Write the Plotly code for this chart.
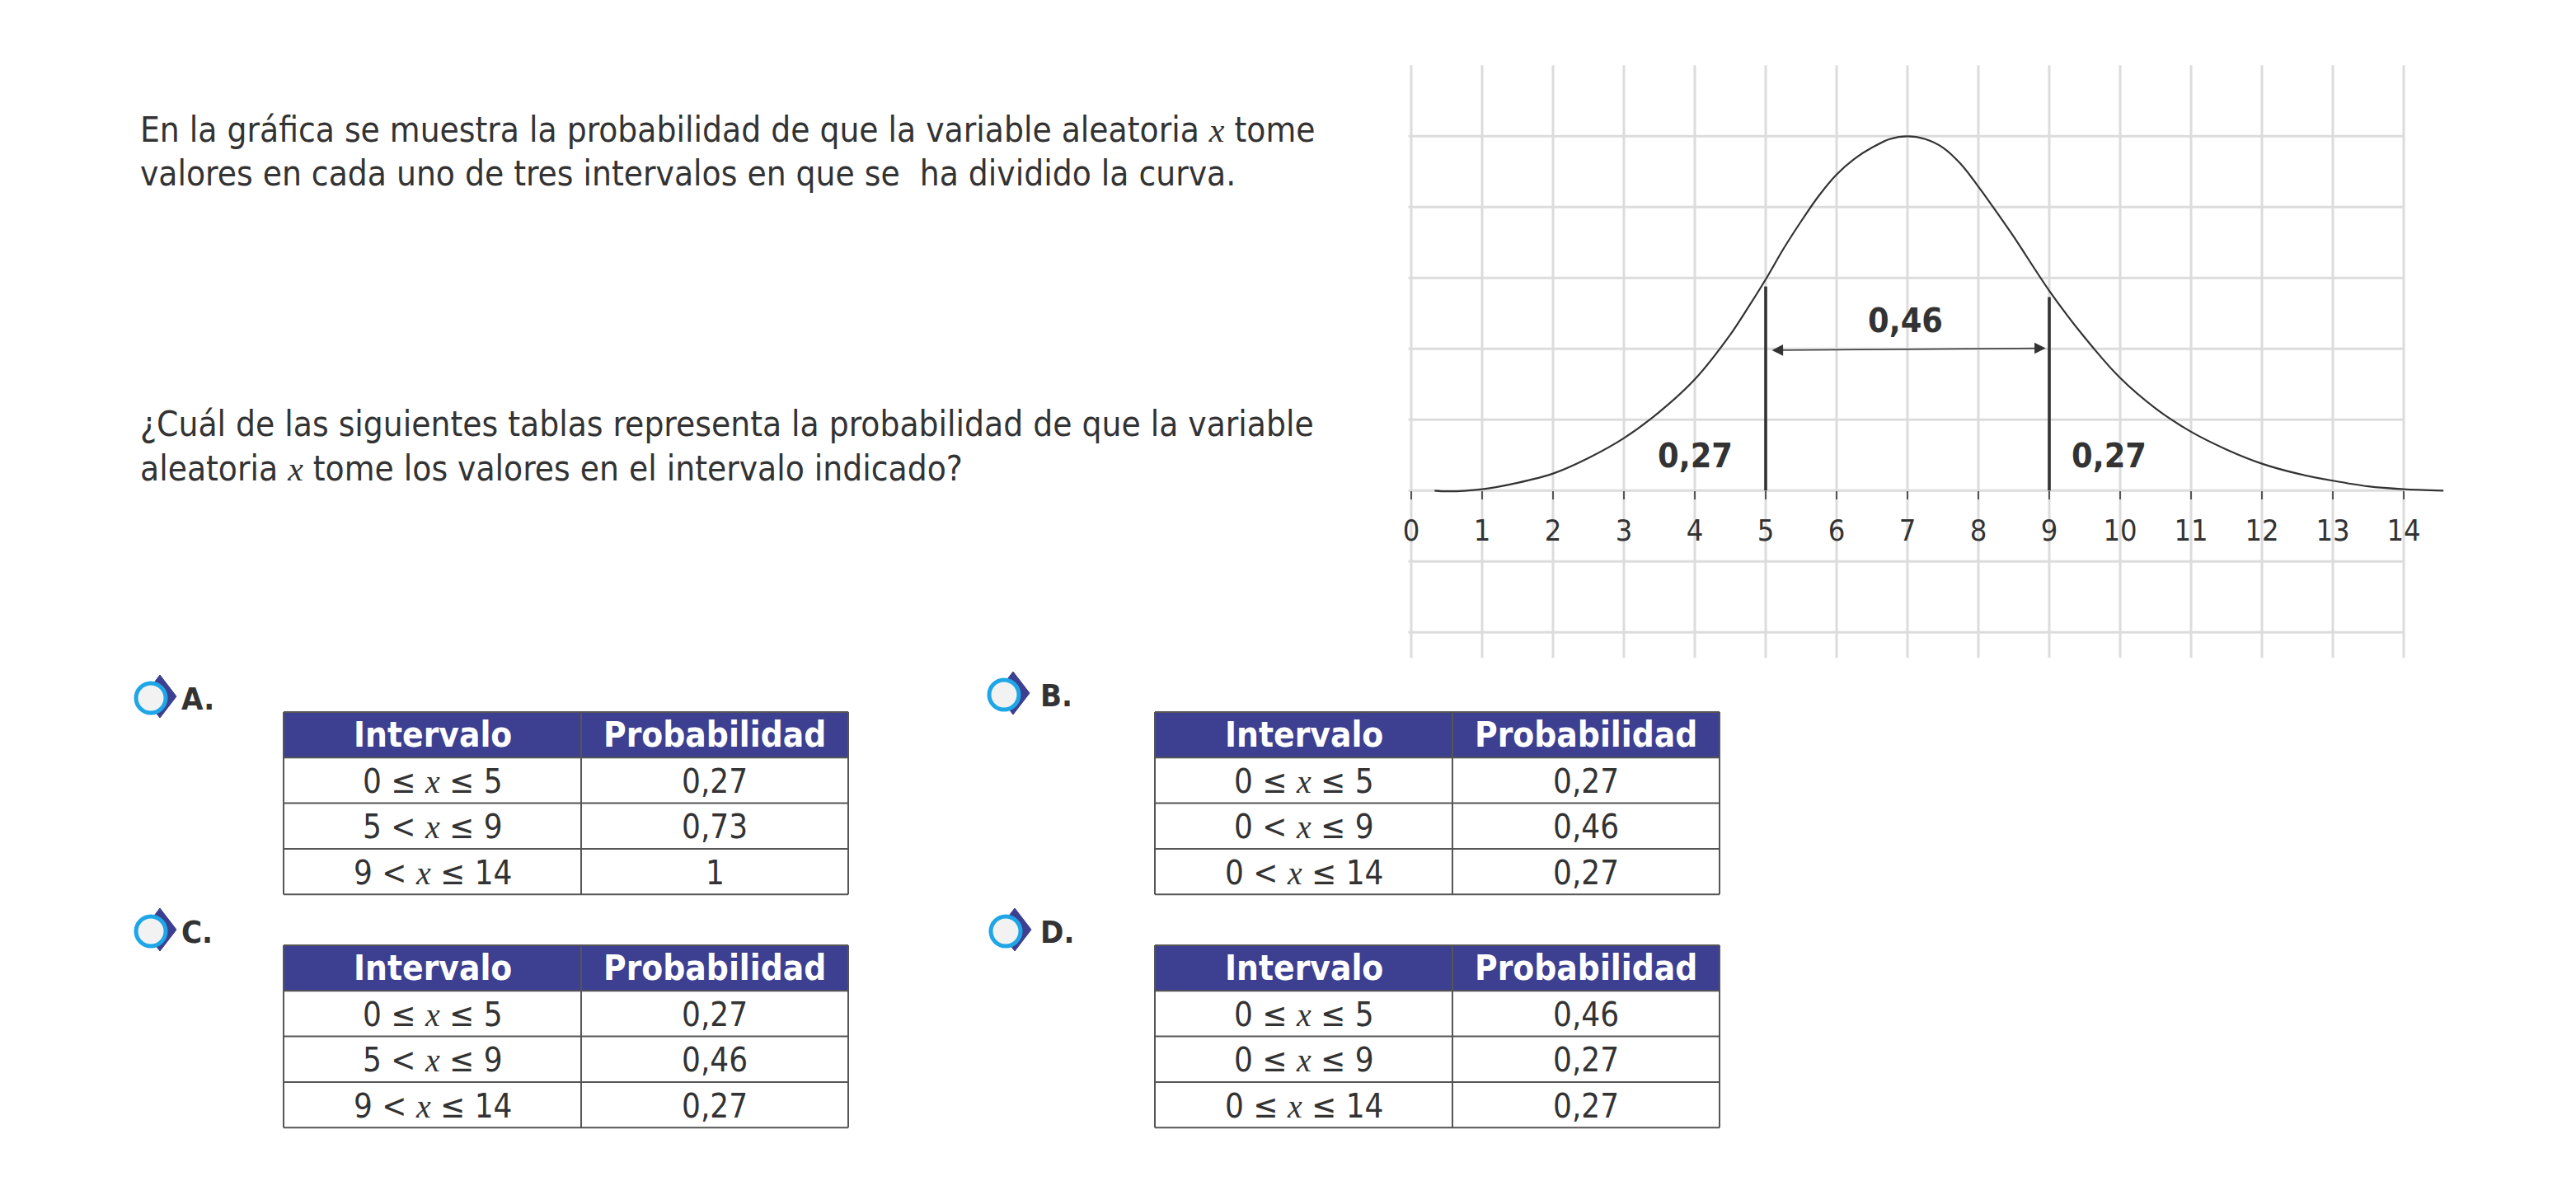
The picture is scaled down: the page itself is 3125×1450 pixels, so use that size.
import plotly.graph_objects as go

W, H = 3125, 1450

# ---------------- data ----------------
CURVE_X = [0.33, 0.5, 1, 1.5, 2, 2.5, 3, 3.5, 4, 4.5, 4.75, 5, 5.25, 5.5, 5.75, 6, 6.25, 6.5, 6.75, 7,
           7.25, 7.5, 7.75, 8, 8.25, 8.5, 9, 9.5, 10, 10.5, 11, 11.5, 12, 12.5, 13, 13.5, 14, 14.56]
CURVE_Y = [0.0, -0.01, 0.02, 0.11, 0.24, 0.46, 0.74, 1.11, 1.57, 2.2, 2.58, 2.98, 3.41, 3.8, 4.16, 4.46, 4.68, 4.84, 4.96, 5.0,
           4.96, 4.84, 4.61, 4.29, 3.94, 3.58, 2.82, 2.16, 1.59, 1.16, 0.83, 0.58, 0.38, 0.24, 0.14, 0.06, 0.02, 0.0]

BOUND_X = [5, 9]
BOUND_TOP = [2.88, 2.73]

ARROW_X = [5.07, 8.95]
ARROW_Y = [1.98, 2.01]

SEG_PROBS = ["0,27", "0,46", "0,27"]
SEG_LABEL_X = [4.01, 6.97, 9.84]
SEG_LABEL_Y = [0.49, 2.40, 0.49]

X_TICKS = list(range(0, 15))
GRID_Y = [-2, -1, 0, 1, 2, 3, 4, 5]

INTRO_LINES = [
    "En la gráfica se muestra la probabilidad de que la variable aleatoria x tome",
    "valores en cada uno de tres intervalos en que se  ha dividido la curva.",
]
QUESTION_LINES = [
    "¿Cuál de las siguientes tablas representa la probabilidad de que la variable",
    "aleatoria x tome los valores en el intervalo indicado?",
]

TABLE_HEADERS = ["Intervalo", "Probabilidad"]
OPTION_LABELS = ["A.", "B.", "C.", "D."]
OPTION_INTERVALS = [
    ["0 ≤ x ≤ 5", "5 < x ≤ 9", "9 < x ≤ 14"],
    ["0 ≤ x ≤ 5", "0 < x ≤ 9", "0 < x ≤ 14"],
    ["0 ≤ x ≤ 5", "5 < x ≤ 9", "9 < x ≤ 14"],
    ["0 ≤ x ≤ 5", "0 ≤ x ≤ 9", "0 ≤ x ≤ 14"],
]
OPTION_PROBS = [
    ["0,27", "0,73", "1"],
    ["0,27", "0,46", "0,27"],
    ["0,27", "0,46", "0,27"],
    ["0,46", "0,27", "0,27"],
]

# ---------------- style / layout constants ----------------
FONT = "Liberation Sans Narrow, DejaVu Sans Condensed, Roboto Condensed, Liberation Sans, sans-serif"
TXT = "#333333"
GRID = "#dcdcdc"
NAVY = "#3d3f91"
SKY = "#1ea6e6"
BORDER = "#555555"

X0_PX, Y0_PX, UNIT = 1712.0, 595.3, 86.0
x_range = [-X0_PX / UNIT, (W - X0_PX) / UNIT]
y_range = [-(H - Y0_PX) / UNIT, Y0_PX / UNIT]


def px(v):
    return v / W


def py(v):
    return 1 - v / H


def var_x(s):
    # the variable x is set as a serif italic, as in the original
    return s.replace(" x ", " <span style='font-family:Liberation Serif, DejaVu Serif, serif'><i>x</i></span> ")


fig = go.Figure()

# grid (layout shapes in data coords)
for xv in X_TICKS:
    fig.add_shape(type="line", xref="x", yref="y", x0=xv, x1=xv, y0=-2.36, y1=6.0,
                  line=dict(color=GRID, width=3), layer="below")
for yv in GRID_Y:
    fig.add_shape(type="line", xref="x", yref="y", x0=-0.04, x1=14, y0=yv, y1=yv,
                  line=dict(color=GRID, width=3), layer="below")

# curve
fig.add_trace(go.Scatter(x=CURVE_X, y=CURVE_Y, mode="lines",
                         line=dict(color=TXT, width=2.2, shape="spline", smoothing=0.8),
                         hoverinfo="skip", showlegend=False))

# boundary lines
for bx, bt in zip(BOUND_X, BOUND_TOP):
    fig.add_trace(go.Scatter(x=[bx, bx], y=[0, bt], mode="lines",
                             line=dict(color=TXT, width=3.6),
                             hoverinfo="skip", showlegend=False))

# double arrow
fig.add_annotation(x=ARROW_X[1], y=ARROW_Y[1], ax=ARROW_X[0], ay=ARROW_Y[0],
                   xref="x", yref="y", axref="x", ayref="y", text="",
                   showarrow=True, arrowhead=2, startarrowhead=2, arrowside="end+start",
                   arrowwidth=1.6, arrowsize=1.7, startarrowsize=1.7, arrowcolor=TXT,
                   standoff=0, startstandoff=0)

# segment probability labels
for lx, ly, lt in zip(SEG_LABEL_X, SEG_LABEL_Y, SEG_PROBS):
    fig.add_annotation(x=lx, y=ly, xref="x", yref="y", text="<b>" + lt + "</b>",
                       showarrow=False, font=dict(family=FONT, size=41, color=TXT),
                       xanchor="center", yanchor="middle")

# paragraphs
for block, top in ((INTRO_LINES, 158), (QUESTION_LINES, 515)):
    for i, line in enumerate(block):
        fig.add_annotation(x=px(168), y=py(top + i * 53), xref="paper", yref="paper",
                           text=var_x(line), showarrow=False, xanchor="left", yanchor="middle",
                           font=dict(family=FONT, size=42, color=TXT))

# tables + option markers (drawn with paper-referenced shapes and annotations)
TABLE_LEFT = [344, 1401, 344, 1401]
TABLE_TOP = [864, 864, 1147, 1147]
COL_W = [361, 324]
RING_C = [(183, 847), (1218, 843), (183, 1130), (1220, 1130)]
LABEL_X = [218, 1260, 218, 1260]
ROW_H = 55.3

for k in range(4):
    left, top = TABLE_LEFT[k], TABLE_TOP[k]
    col_edges = [left, left + COL_W[0], left + COL_W[0] + COL_W[1]]
    n_rows = 1 + len(OPTION_INTERVALS[k])
    bottom = top + n_rows * ROW_H
    # header background
    fig.add_shape(type="rect", xref="paper", yref="paper",
                  x0=px(col_edges[0]), x1=px(col_edges[2]), y0=py(top + ROW_H), y1=py(top),
                  fillcolor=NAVY, line=dict(width=0))
    # horizontal borders
    for r in range(n_rows + 1):
        yy = top + r * ROW_H
        fig.add_shape(type="line", xref="paper", yref="paper",
                      x0=px(col_edges[0]), x1=px(col_edges[2]), y0=py(yy), y1=py(yy),
                      line=dict(color=BORDER, width=2))
    # vertical borders
    for ce in col_edges:
        fig.add_shape(type="line", xref="paper", yref="paper",
                      x0=px(ce), x1=px(ce), y0=py(top), y1=py(bottom),
                      line=dict(color=BORDER, width=2))
    # header text
    for c, htxt in enumerate(TABLE_HEADERS):
        fig.add_annotation(x=px((col_edges[c] + col_edges[c + 1]) / 2), y=py(top + ROW_H / 2),
                           xref="paper", yref="paper", text="<b>" + htxt + "</b>",
                           showarrow=False, xanchor="center", yanchor="middle",
                           font=dict(family=FONT, size=42, color="white"))
    # cell text
    for r, (iv, pv) in enumerate(zip(OPTION_INTERVALS[k], OPTION_PROBS[k])):
        yc = top + (r + 1.5) * ROW_H + 1
        for c, ctxt in enumerate((var_x(iv), pv)):
            fig.add_annotation(x=px((col_edges[c] + col_edges[c + 1]) / 2), y=py(yc),
                               xref="paper", yref="paper", text=ctxt,
                               showarrow=False, xanchor="center", yanchor="middle",
                               font=dict(family=FONT, size=40, color=TXT))
    # option marker: navy diamond + sky ring
    cx, cy = RING_C[k]
    dx, dy = cx + 11, cy - 2
    fig.add_shape(type="path", xref="paper", yref="paper",
                  path=f"M {px(dx)} {py(dy-26)} L {px(dx+20)} {py(dy)} L {px(dx)} {py(dy+26)} L {px(dx-20)} {py(dy)} Z",
                  fillcolor=NAVY, line=dict(color=NAVY, width=1))
    fig.add_shape(type="circle", xref="paper", yref="paper",
                  x0=px(cx - 18), x1=px(cx + 18), y0=py(cy + 18), y1=py(cy - 18),
                  fillcolor="#f2f2f2", line=dict(color=SKY, width=5))
    fig.add_annotation(x=px(LABEL_X[k]), y=py(cy + 1), xref="paper", yref="paper",
                       text="<b>" + OPTION_LABELS[k] + "</b>", showarrow=False,
                       xanchor="left", yanchor="middle",
                       font=dict(family=FONT, size=38, color=TXT))

fig.update_layout(
    width=W, height=H, margin=dict(l=0, r=0, t=0, b=0, pad=0),
    paper_bgcolor="white", plot_bgcolor="white", showlegend=False,
    xaxis=dict(domain=[0, 1], range=x_range, anchor="free", position=py(Y0_PX),
               showgrid=False, zeroline=False, showline=False,
               tickmode="array", tickvals=X_TICKS, ticktext=[str(t) for t in X_TICKS],
               ticks="outside", ticklen=10, tickwidth=2, tickcolor=BORDER,
               tickfont=dict(family=FONT, size=36, color=TXT), ticklabelstandoff=6),
    yaxis=dict(domain=[0, 1], range=y_range, visible=False, showgrid=False, zeroline=False),
)

fig.write_html("out.html", config={"displayModeBar": False, "staticPlot": True},
               post_script="document.body.style.margin='0';document.body.style.overflow='hidden';")
